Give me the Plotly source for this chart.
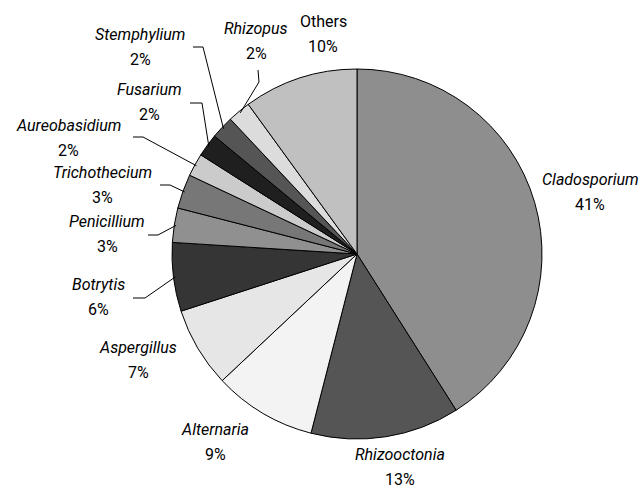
import math
import plotly.graph_objects as go

# Fungal genera and their share of isolates (%)
genera = ["Cladosporium", "Rhizooctonia", "Alternaria", "Aspergillus", "Botrytis",
          "Penicillium", "Trichothecium", "Aureobasidium", "Fusarium", "Stemphylium",
          "Rhizopus", "Others"]
shares = [41, 13, 9, 7, 6, 3, 3, 2, 2, 2, 2, 10]
italic = [True] * 11 + [False]

# Grey fill for each slice
greys = ["#8e8e8e", "#555555", "#f3f3f3", "#e6e6e6", "#353535", "#909090",
         "#777777", "#cbcbcb", "#1f1f1f", "#555555", "#dcdcdc", "#c0c0c0"]

W, H = 643, 488
CX, CY, R = 357, 254, 185
LINE_GAP = 25  # px between genus name and percentage

# Label centres (px) and leader-line elbows (px, None = no leader)
label_pos = [(590, 192), (400, 467), (215, 442), (138, 360), (98, 297),
             (107, 234), (102, 185), (68, 138), (149, 102), (140, 47),
             (256, 41), (323, 34)]
elbows = [None, None, None, None, [(133, 298), (145, 298)],
          [(148, 235), (158, 235)], [(160, 185), (170, 185)],
          [(133, 137), (143, 137)], [(190, 103), (202, 103)],
          [(193, 47), (203, 47)], [(258, 70), (259, 82)], None]


def px(x, y):
    return x / W, 1 - y / H


fig = go.Figure(go.Pie(
    labels=genera, values=shares, sort=False, direction="clockwise", rotation=0,
    marker=dict(colors=greys, line=dict(color="black", width=1)),
    textinfo="none", hoverinfo="label+percent", showlegend=False,
    domain=dict(x=[(CX - R) / W, (CX + R) / W], y=[1 - (CY + R) / H, 1 - (CY - R) / H]),
))

font = dict(family="Roboto, Liberation Sans, sans-serif", size=16, color="black")

total = sum(shares)
cum = 0
shapes = []
annotations = []
for name, v, it, (lx, ly), elb in zip(genera, shares, italic, label_pos, elbows):
    mid = (cum + v / 2) / total * 2 * math.pi
    cum += v
    title = f"<i>{name}</i>" if it else name
    for txt, yy in ((title, ly - LINE_GAP / 2), (f"{v}%", ly + LINE_GAP / 2)):
        ax_, ay_ = px(lx, yy)
        annotations.append(dict(text=txt, x=ax_, y=ay_, xref="paper", yref="paper",
                                showarrow=False, font=font, align="center",
                                xanchor="center", yanchor="middle"))
    if elb:
        ex = CX + R * 0.99 * math.sin(mid)
        ey = CY - R * 0.99 * math.cos(mid)
        pts = elb + [(ex, ey)]
        path = "M " + " L ".join(f"{px(x, y)[0]},{px(x, y)[1]}" for x, y in pts)
        shapes.append(dict(type="path", path=path, xref="paper", yref="paper",
                           line=dict(color="black", width=1)))

fig.update_layout(width=W, height=H, margin=dict(l=0, r=0, t=0, b=0),
                  paper_bgcolor="white", plot_bgcolor="white",
                  annotations=annotations, shapes=shapes)
fig.write_html("out.html")
